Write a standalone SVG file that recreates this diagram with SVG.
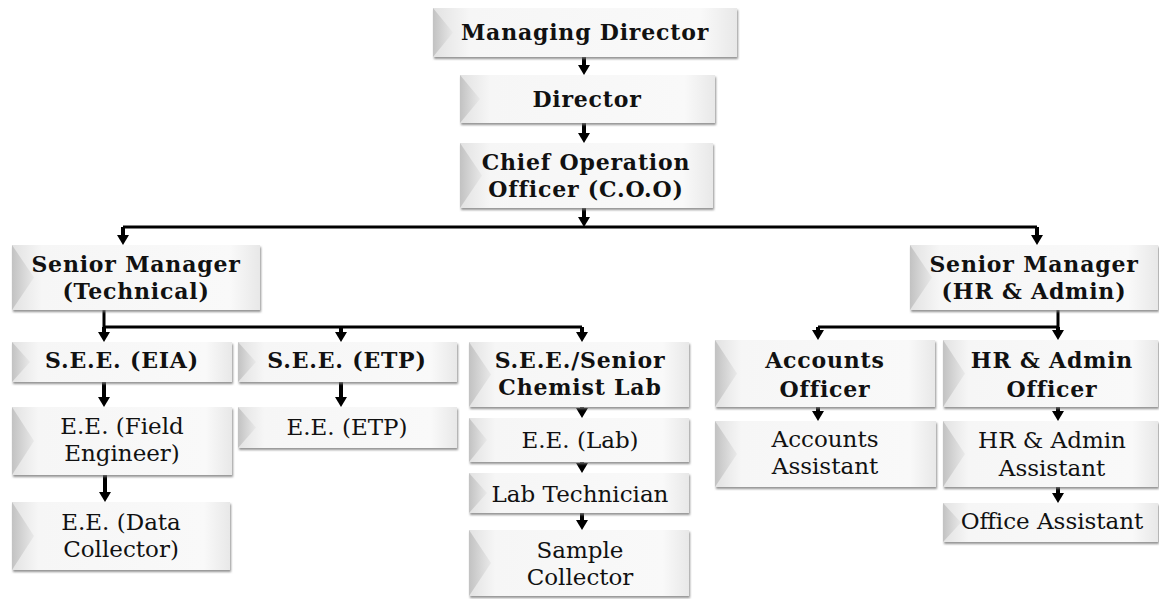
<svg xmlns="http://www.w3.org/2000/svg" width="1159" height="599" viewBox="0 0 1159 599">
<style>
  .box{fill:url(#face);filter:url(#sh)}
  .bev{fill:url(#bevg)}
  text{font-family:"DejaVu Serif","Liberation Serif",serif;fill:#111;text-anchor:middle}
  .b{font-weight:700;font-size:22px;letter-spacing:0.8px}
  .r{font-size:23px}
  .ln{fill:none;stroke:#000;stroke-width:3}
  .ar{fill:none;stroke:#000;stroke-width:4;marker-end:url(#ah)}
</style>
<defs>
  <linearGradient id="face" x1="0" y1="0" x2="1" y2="0">
    <stop offset="0" stop-color="#e2e2e2"/>
    <stop offset="0.12" stop-color="#f6f6f6"/>
    <stop offset="0.88" stop-color="#f9f9f9"/>
    <stop offset="1" stop-color="#e8e8e8"/>
  </linearGradient>
  <linearGradient id="bevg" x1="0" y1="0" x2="1" y2="0">
    <stop offset="0" stop-color="#c2c2c2"/>
    <stop offset="1" stop-color="#e9e9e9"/>
  </linearGradient>
  <filter id="sh" x="-5%" y="-10%" width="110%" height="130%">
    <feDropShadow dx="1" dy="2" stdDeviation="1.3" flood-color="#777" flood-opacity="0.8"/>
  </filter>
  <marker id="ah" markerUnits="userSpaceOnUse" markerWidth="10" markerHeight="12" viewBox="0 0 10 12" refX="6" refY="6" orient="auto">
    <path d="M0,0 L10,6 L0,12 Z" fill="#000"/>
  </marker>
</defs>
<rect width="1159" height="599" fill="#fff"/>

<g id="connectors">
  <path class="ar" d="M584,57 V71"/>
  <path class="ar" d="M584,123 V139"/>
  <path class="ar" d="M584,208 V223"/>
  <path class="ln" d="M123,227 H1037"/>
  <path class="ar" d="M123,227 V241"/>
  <path class="ar" d="M1037,227 V241"/>
  <path class="ln" d="M104,310 V327 H582"/>
  <path class="ar" d="M104,327 V338"/>
  <path class="ar" d="M341,327 V338"/>
  <path class="ar" d="M582,327 V338"/>
  <path class="ar" d="M104,382 V403"/>
  <path class="ar" d="M341,382 V403"/>
  <path class="ar" d="M105,475 V498"/>
  <path class="ar" d="M582,407 V414"/>
  <path class="ar" d="M582,462 V469"/>
  <path class="ar" d="M582,513 V526"/>
  <path class="ln" d="M1058,310 V327 H818"/>
  <path class="ar" d="M818,327 V336"/>
  <path class="ar" d="M1058,327 V336"/>
  <path class="ar" d="M818,407 V417"/>
  <path class="ar" d="M1058,407 V417"/>
  <path class="ar" d="M1058,487 V499"/>
</g>

<g id="n-md"><rect class="box" x="433" y="8" width="304" height="49"/><path class="bev" d="M433,8 L453,32.5 L433,57Z"/><text class="b" x="585" y="40">Managing Director</text></g>
<g id="n-dir"><rect class="box" x="460" y="75" width="255" height="48"/><path class="bev" d="M460,75 L480,99 L460,123Z"/><text class="b" x="587" y="107">Director</text></g>
<g id="n-coo"><rect class="box" x="460" y="143" width="253" height="65"/><path class="bev" d="M460,143 L482,175.5 L460,208Z"/><text class="b" x="586" y="170">Chief Operation</text><text class="b" x="586" y="197">Officer (C.O.O)</text></g>
<g id="n-smt"><rect class="box" x="12" y="245" width="248" height="65"/><path class="bev" d="M12,245 L34,277.5 L12,310Z"/><text class="b" x="136" y="272">Senior Manager</text><text class="b" x="136" y="299">(Technical)</text></g>
<g id="n-smh"><rect class="box" x="910" y="245" width="248" height="65"/><path class="bev" d="M910,245 L932,277.5 L910,310Z"/><text class="b" x="1034" y="272">Senior Manager</text><text class="b" x="1034" y="299">(HR &amp; Admin)</text></g>
<g id="n-eia"><rect class="box" x="12" y="342" width="220" height="40"/><path class="bev" d="M12,342 L30,362 L12,382Z"/><text class="b" x="122" y="368">S.E.E. (EIA)</text></g>
<g id="n-etp"><rect class="box" x="238" y="342" width="219" height="40"/><path class="bev" d="M238,342 L256,362 L238,382Z"/><text class="b" x="347" y="368">S.E.E. (ETP)</text></g>
<g id="n-lab"><rect class="box" x="469" y="342" width="220" height="65"/><path class="bev" d="M469,342 L491,374.5 L469,407Z"/><text class="b" x="580" y="368">S.E.E./Senior</text><text class="b" x="580" y="395">Chemist Lab</text></g>
<g id="n-acc"><rect class="box" x="715" y="340" width="220" height="67"/><path class="bev" d="M715,340 L737,373.5 L715,407Z"/><text class="b" x="825" y="368">Accounts</text><text class="b" x="825" y="397">Officer</text></g>
<g id="n-hro"><rect class="box" x="943" y="340" width="215" height="67"/><path class="bev" d="M943,340 L965,373.5 L943,407Z"/><text class="b" x="1052" y="368">HR &amp; Admin</text><text class="b" x="1052" y="397">Officer</text></g>
<g id="n-fe"><rect class="box" x="12" y="407" width="220" height="68"/><path class="bev" d="M12,407 L34,441 L12,475Z"/><text class="r" x="122" y="434">E.E. (Field</text><text class="r" x="122" y="461">Engineer)</text></g>
<g id="n-eetp"><rect class="box" x="238" y="407" width="219" height="41"/><path class="bev" d="M238,407 L256,427.5 L238,448Z"/><text class="r" x="347" y="435">E.E. (ETP)</text></g>
<g id="n-eelab"><rect class="box" x="469" y="418" width="220" height="44"/><path class="bev" d="M469,418 L487,440 L469,462Z"/><text class="r" x="580" y="448">E.E. (Lab)</text></g>
<g id="n-dc"><rect class="box" x="12" y="502" width="218" height="68"/><path class="bev" d="M12,502 L34,536 L12,570Z"/><text class="r" x="121" y="530">E.E. (Data</text><text class="r" x="121" y="557">Collector)</text></g>
<g id="n-labt"><rect class="box" x="469" y="473" width="220" height="40"/><path class="bev" d="M469,473 L487,493 L469,513Z"/><text class="r" x="580" y="502">Lab Technician</text></g>
<g id="n-sc"><rect class="box" x="469" y="530" width="220" height="66"/><path class="bev" d="M469,530 L491,563 L469,596Z"/><text class="r" x="580" y="558">Sample</text><text class="r" x="580" y="585">Collector</text></g>
<g id="n-acca"><rect class="box" x="715" y="421" width="221" height="66"/><path class="bev" d="M715,421 L737,454 L715,487Z"/><text class="r" x="825" y="447">Accounts</text><text class="r" x="825" y="474">Assistant</text></g>
<g id="n-hra"><rect class="box" x="943" y="421" width="215" height="66"/><path class="bev" d="M943,421 L965,454 L943,487Z"/><text class="r" x="1052" y="448">HR &amp; Admin</text><text class="r" x="1052" y="476">Assistant</text></g>
<g id="n-oa"><rect class="box" x="943" y="503" width="215" height="39"/><path class="bev" d="M943,503 L961,522.5 L943,542Z"/><text class="r" x="1052" y="529">Office Assistant</text></g>
</svg>
